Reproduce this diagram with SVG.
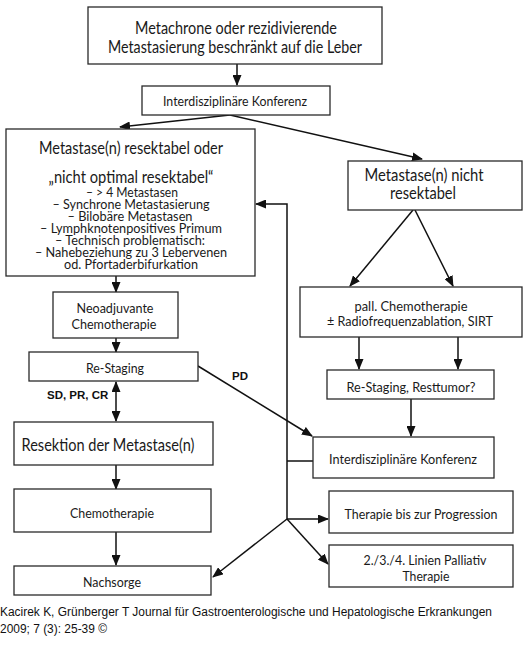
<svg xmlns="http://www.w3.org/2000/svg" width="530" height="661" viewBox="0 0 530 661">
<style>
.box{fill:#fff;stroke:#2a2a2a;stroke-width:1.3}
.t{font-family:Lato,"Open Sans","Noto Sans",sans-serif;fill:#1a1a1a;text-anchor:middle;dominant-baseline:central}
.big{font-size:16.5px}
.sm{font-size:14px}
.li{font-size:13.5px}
.lab{font-family:"Liberation Sans",Arial,sans-serif;font-weight:bold;font-size:11.5px;fill:#111;dominant-baseline:central}
.cap{font-family:"Liberation Sans",Arial,sans-serif;font-size:12px;fill:#111}
.c{fill:none;stroke:#111;stroke-width:1.5}
</style>
<defs>
<marker id="ah" markerUnits="userSpaceOnUse" markerWidth="11" markerHeight="9" refX="10" refY="4.5" orient="auto-start-reverse">
<path d="M0,0 L11,4.5 L0,9 z" fill="#111"/>
</marker>
</defs>
<rect width="530" height="661" fill="#fff"/>

<g id="connectors">
<line class="c" x1="237" y1="64" x2="237" y2="85" marker-end="url(#ah)"/>
<line class="c" x1="230" y1="115" x2="120" y2="127" marker-end="url(#ah)"/>
<line class="c" x1="230" y1="115" x2="422" y2="159" marker-end="url(#ah)"/>
<line class="c" x1="116" y1="276" x2="116" y2="292" marker-end="url(#ah)"/>
<line class="c" x1="116" y1="338" x2="116" y2="352" marker-end="url(#ah)"/>
<line class="c" x1="116" y1="382" x2="116" y2="421" marker-start="url(#ah)" marker-end="url(#ah)"/>
<line class="c" x1="116" y1="465" x2="116" y2="489" marker-end="url(#ah)"/>
<line class="c" x1="116" y1="532" x2="116" y2="565" marker-end="url(#ah)"/>
<line class="c" x1="198" y1="366" x2="312" y2="436" marker-end="url(#ah)"/>
<line class="c" x1="413" y1="210" x2="350" y2="286" marker-end="url(#ah)"/>
<line class="c" x1="415" y1="210" x2="453" y2="286" marker-end="url(#ah)"/>
<line class="c" x1="359" y1="337" x2="359" y2="369" marker-end="url(#ah)"/>
<line class="c" x1="458" y1="337" x2="458" y2="369" marker-end="url(#ah)"/>
<line class="c" x1="411" y1="399" x2="411" y2="436" marker-end="url(#ah)"/>
<line class="c" x1="313" y1="461" x2="287" y2="461"/>
<polyline class="c" points="287,520 287,204 256,204" marker-end="url(#ah)"/>
<line class="c" x1="287" y1="519" x2="328" y2="519" marker-end="url(#ah)"/>
<line class="c" x1="287" y1="519" x2="328" y2="564" marker-end="url(#ah)"/>
<line class="c" x1="287" y1="519" x2="213" y2="577" marker-end="url(#ah)"/>
<text class="lab" x="47" y="395">SD, PR, CR</text>
<text class="lab" x="232" y="376">PD</text>
</g>

<g id="n1">
<rect class="box" x="88" y="7" width="294" height="57"/>
<text class="t big" x="236" y="28" textLength="202" lengthAdjust="spacingAndGlyphs">Metachrone oder rezidivierende</text>
<text class="t big" x="235" y="47" textLength="254" lengthAdjust="spacingAndGlyphs">Metastasierung beschränkt auf die Leber</text>
</g>

<g id="n2">
<rect class="box" x="142" y="86" width="188" height="29"/>
<text class="t sm" x="235" y="100" textLength="144" lengthAdjust="spacingAndGlyphs">Interdisziplinäre Konferenz</text>
</g>

<g id="n3">
<rect class="box" x="6" y="129" width="249" height="147"/>
<text class="t big" x="131" y="148" textLength="184" lengthAdjust="spacingAndGlyphs">Metastase(n) resektabel oder</text>
<text class="t big" x="131" y="177" textLength="165" lengthAdjust="spacingAndGlyphs">„nicht optimal resektabel“</text>
<text class="t li" x="132" y="192" textLength="92" lengthAdjust="spacingAndGlyphs">– &gt; 4 Metastasen</text>
<text class="t li" x="131" y="204" textLength="157" lengthAdjust="spacingAndGlyphs">– Synchrone Metastasierung</text>
<text class="t li" x="130" y="216" textLength="125" lengthAdjust="spacingAndGlyphs">– Bilobäre Metastasen</text>
<text class="t li" x="131" y="228" textLength="182" lengthAdjust="spacingAndGlyphs">– Lymphknotenpositives Primum</text>
<text class="t li" x="130" y="240" textLength="150" lengthAdjust="spacingAndGlyphs">– Technisch problematisch:</text>
<text class="t li" x="131" y="252" textLength="192" lengthAdjust="spacingAndGlyphs">– Nahebeziehung zu 3 Lebervenen</text>
<text class="t li" x="131" y="264" textLength="134" lengthAdjust="spacingAndGlyphs">od. Pfortaderbifurkation</text>
</g>

<g id="n4">
<rect class="box" x="348" y="161" width="174" height="49"/>
<text class="t big" x="424" y="175" textLength="119" lengthAdjust="spacingAndGlyphs">Metastase(n) nicht</text>
<text class="t big" x="423" y="193" textLength="66" lengthAdjust="spacingAndGlyphs">resektabel</text>
</g>

<g id="n5">
<rect class="box" x="300" y="287" width="222" height="50"/>
<text class="t sm" x="411" y="305" textLength="113" lengthAdjust="spacingAndGlyphs">pall. Chemotherapie</text>
<text class="t sm" x="410" y="320" textLength="166" lengthAdjust="spacingAndGlyphs">± Radiofrequenzablation, SIRT</text>
</g>

<g id="n6">
<rect class="box" x="327" y="370" width="167" height="29"/>
<text class="t sm" x="411" y="386" textLength="129" lengthAdjust="spacingAndGlyphs">Re-Staging, Resttumor?</text>
</g>

<g id="n7">
<rect class="box" x="313" y="437" width="181" height="41"/>
<text class="t sm" x="403" y="458" textLength="148" lengthAdjust="spacingAndGlyphs">Interdisziplinäre Konferenz</text>
</g>

<g id="n8">
<rect class="box" x="53" y="292" width="125" height="46"/>
<text class="t sm" x="115" y="307" textLength="77" lengthAdjust="spacingAndGlyphs">Neoadjuvante</text>
<text class="t sm" x="114" y="323" textLength="85" lengthAdjust="spacingAndGlyphs">Chemotherapie</text>
</g>

<g id="n9">
<rect class="box" x="29" y="352" width="169" height="29"/>
<text class="t sm" x="115" y="367" textLength="58" lengthAdjust="spacingAndGlyphs">Re-Staging</text>
</g>

<g id="n10">
<rect class="box" x="14" y="422" width="199" height="43"/>
<text class="t big" x="108" y="445" textLength="173" lengthAdjust="spacingAndGlyphs">Resektion der Metastase(n)</text>
</g>

<g id="n11">
<rect class="box" x="14" y="489" width="197" height="43"/>
<text class="t sm" x="112" y="512" textLength="84" lengthAdjust="spacingAndGlyphs">Chemotherapie</text>
</g>

<g id="n12">
<rect class="box" x="14" y="566" width="197" height="29"/>
<text class="t sm" x="112" y="581" textLength="58" lengthAdjust="spacingAndGlyphs">Nachsorge</text>
</g>

<g id="n13">
<rect class="box" x="329" y="491" width="184" height="42"/>
<text class="t sm" x="421" y="513" textLength="153" lengthAdjust="spacingAndGlyphs">Therapie bis zur Progression</text>
</g>

<g id="n14">
<rect class="box" x="329" y="545" width="184" height="42"/>
<text class="t sm" x="425" y="559" textLength="123" lengthAdjust="spacingAndGlyphs">2./3./4. Linien Palliativ</text>
<text class="t sm" x="426" y="575" textLength="47" lengthAdjust="spacingAndGlyphs">Therapie</text>
</g>

<g id="caption">
<text class="cap" x="0" y="616" textLength="492" lengthAdjust="spacingAndGlyphs">Kacirek K, Grünberger T Journal für Gastroenterologische und Hepatologische Erkrankungen</text>
<text class="cap" x="0" y="633" textLength="107" lengthAdjust="spacingAndGlyphs">2009; 7 (3): 25-39 ©</text>
</g>
</svg>
